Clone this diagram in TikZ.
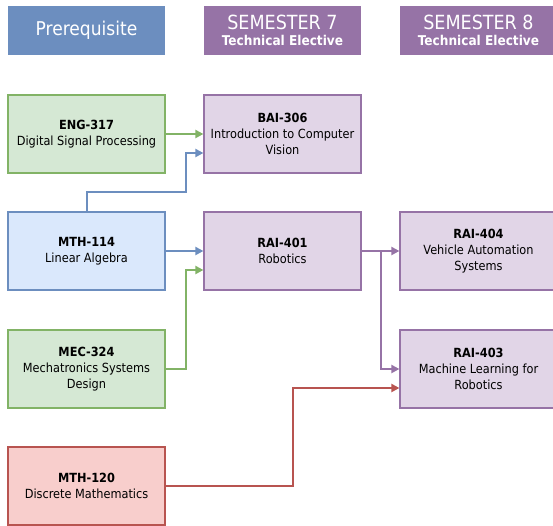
\documentclass[tikz,border=0pt]{standalone}
\usepackage{fontspec}
\setmainfont{DejaVu Sans Condensed}
\usepackage{xcolor}
\usetikzlibrary{arrows.meta}

\definecolor{hdrblue}{HTML}{6C8EBF}
\definecolor{hdrpurple}{HTML}{9673A6}
\definecolor{greenfill}{HTML}{D5E8D4}
\definecolor{greenline}{HTML}{82B366}
\definecolor{bluefill}{HTML}{DAE8FC}
\definecolor{purplefill}{HTML}{E1D5E7}
\definecolor{redfill}{HTML}{F8CECC}
\definecolor{redline}{HTML}{B85450}

\tikzset{
  header/.style={minimum width=157pt, minimum height=49pt, inner sep=0pt, text=white, align=center},
  course/.style={draw, line width=1.2pt, minimum width=157pt, minimum height=78pt, inner sep=2pt,
                 align=center, font=\fontsize{12.6}{16}\selectfont},
  link/.style={line width=2pt, -{Triangle[length=8pt,width=8pt]}},
}

\begin{document}
\begin{tikzpicture}[x=1pt, y=-1pt]
            \useasboundingbox (0,0) rectangle (553,525);
            % column headers
            \node[header, fill=hdrblue] (hpre) at (86.5,30.5) {\fontsize{19}{22}\selectfont Prerequisite};
            \node[header, fill=hdrpurple] (hsem7) at (282.5,30.5) {\fontsize{19.5}{21}\selectfont SEMESTER 7\\[4pt]\fontsize{13.5}{16}\selectfont\bfseries Technical Elective};
            \node[header, fill=hdrpurple] (hsem8) at (478.5,30.5) {\fontsize{19.5}{21}\selectfont SEMESTER 8\\[4pt]\fontsize{13.5}{16}\selectfont\bfseries Technical Elective};
            % courses
            \node[course, draw=greenline, fill=greenfill] (eng317) at (86.5,134) {\textbf{ENG-317}\\Digital Signal Processing};
            \node[course, draw=hdrpurple, fill=purplefill] (bai306) at (282.5,134) {\textbf{BAI-306}\\Introduction to Computer\\Vision};
            \node[course, draw=hdrblue, fill=bluefill] (mth114) at (86.5,251) {\textbf{MTH-114}\\Linear Algebra};
            \node[course, draw=hdrpurple, fill=purplefill] (rai401) at (282.5,251) {\textbf{RAI-401}\\Robotics};
            \node[course, draw=hdrpurple, fill=purplefill] (rai404) at (478.5,251) {\textbf{RAI-404}\\Vehicle Automation\\Systems};
            \node[course, draw=greenline, fill=greenfill] (mec324) at (86.5,369) {\textbf{MEC-324}\\Mechatronics Systems\\Design};
            \node[course, draw=hdrpurple, fill=purplefill] (rai403) at (478.5,369) {\textbf{RAI-403}\\Machine Learning for\\Robotics};
            \node[course, draw=redline, fill=redfill] (mth120) at (86.5,486) {\textbf{MTH-120}\\Discrete Mathematics};
            % prerequisite links
            \draw[link, greenline] (eng317) -- (bai306);
            \draw[link, hdrblue] (mth114.north) -- ++(0,-19) -| (186,153) -- ([yshift=-19pt]bai306.west);
            \draw[link, hdrblue] (mth114) -- (rai401);
            \draw[link, greenline] (mec324.east) -| (186,270) -- ([yshift=-19pt]rai401.west);
            \coordinate (split) at (381,251);
            \draw[link, hdrpurple] (rai401) -- (rai404);
            \draw[link, hdrpurple] (split) |- (rai403);
            \draw[link, redline] (mth120.east) -| (293,388) -- ([yshift=-19pt]rai403.west);
        \end{tikzpicture}
\end{document}
